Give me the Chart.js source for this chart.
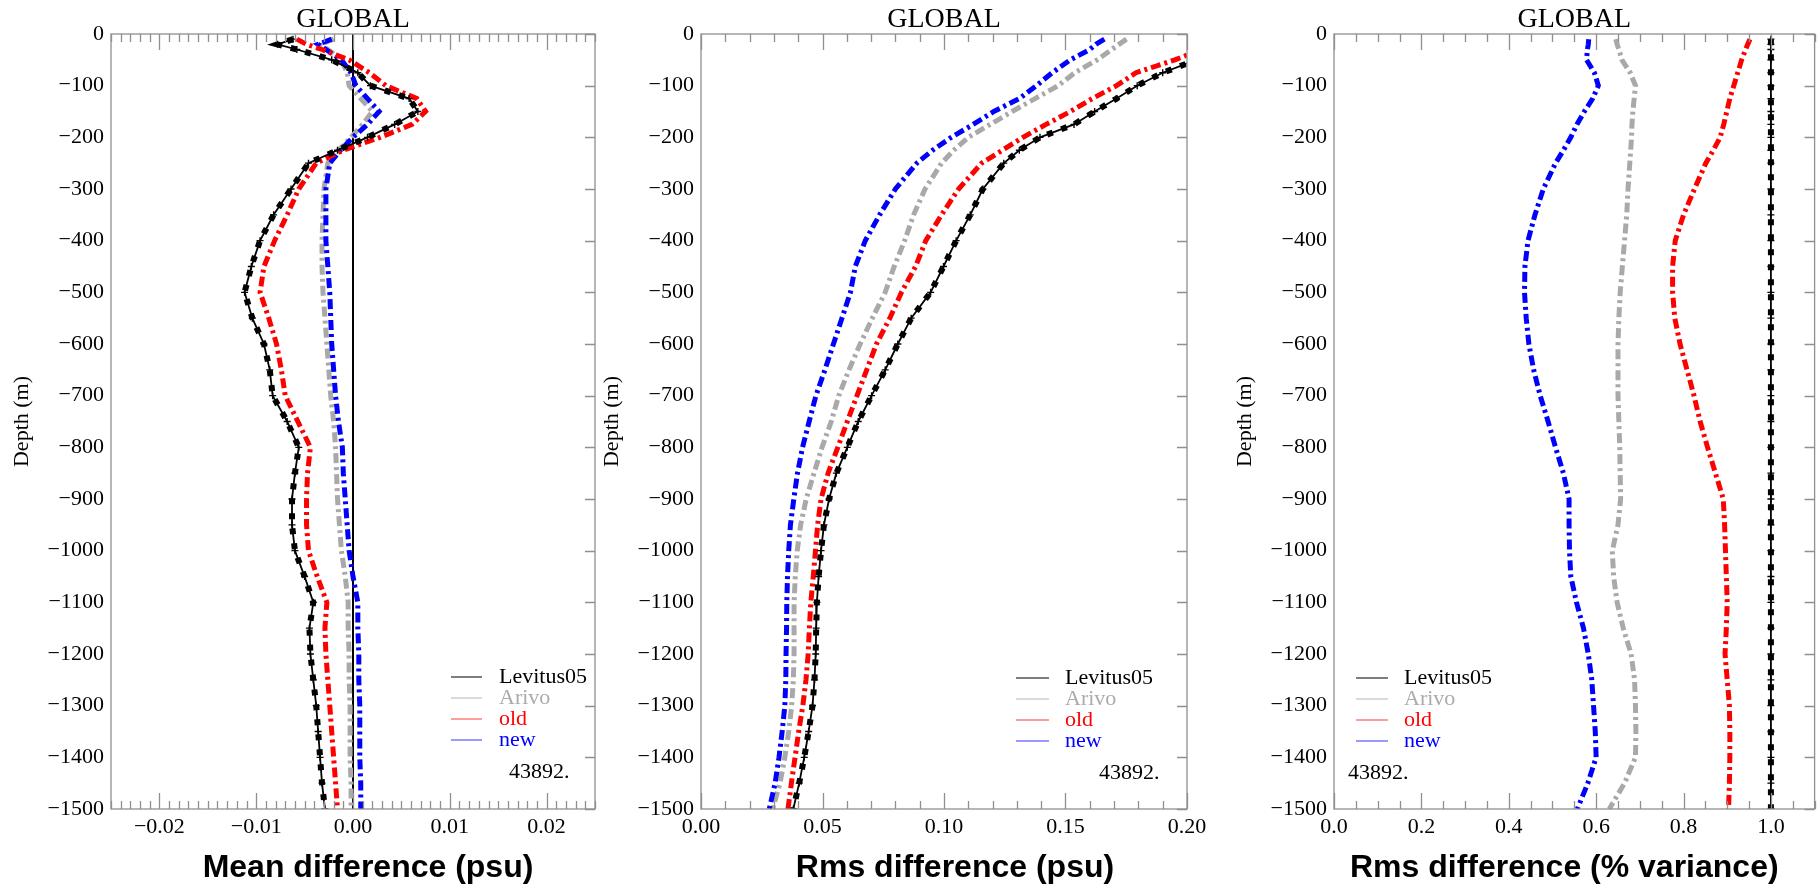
<!DOCTYPE html>
<html>
<head>
<meta charset="utf-8">
<title>GLOBAL salinity profiles</title>
<script src="https://cdn.jsdelivr.net/npm/chart.js@4.4.1/dist/chart.umd.min.js"></script>
<style>
  html, body { margin: 0; padding: 0; background: #fff; }
  body { width: 1819px; height: 889px; position: relative; overflow: hidden; }
  .panel { position: absolute; top: 0; height: 889px; }
</style>
</head>
<body>
<div class="panel" style="left:1px;width:634px"><canvas id="meanChart"></canvas></div>
<div class="panel" style="left:591px;width:636px"><canvas id="rmsChart"></canvas></div>
<div class="panel" style="left:1224px;width:596px"><canvas id="varChart"></canvas></div>
<script>
// depth levels (m) shared by every profile
const depthLevels = [10, 20, 30, 50, 75, 100, 125, 150, 175, 200, 225, 250,
  300, 350, 400, 450, 500, 550, 600, 650, 700, 750, 800, 850, 900, 950,
  1000, 1050, 1100, 1150, 1200, 1250, 1300, 1350, 1400, 1450, 1500];

// mean difference (psu)
const meanLevitus = [-0.0062, -0.0078, -0.0058, -0.0022, 0.0005, 0.0018, 0.0058, 0.0067, 0.0043, 0.0015, -0.0016, -0.0046,
  -0.0064, -0.0082, -0.0096, -0.0105, -0.0112, -0.0104, -0.0092, -0.0086, -0.0083, -0.0068, -0.0056, -0.0060, -0.0063, -0.0063,
  -0.0060, -0.0050, -0.0041, -0.0045, -0.0044, -0.0041, -0.0038, -0.0036, -0.0034, -0.0032, -0.0029];
const meanArivo = [-0.0020, -0.0034, -0.0026, -0.0012, -0.0006, -0.0004, 0.0008, 0.0020, 0.0010, -0.0002, -0.0015, -0.0026,
  -0.0030, -0.0031, -0.0032, -0.0032, -0.0031, -0.0029, -0.0027, -0.0025, -0.0023, -0.0020, -0.0018, -0.0017, -0.0016, -0.0014,
  -0.0012, -0.0008, -0.0005, -0.0005, -0.0004, -0.0004, -0.0003, -0.0003, -0.0003, -0.0002, -0.0002];
const meanOld = [-0.0058, -0.0048, -0.0032, -0.0004, 0.0017, 0.0034, 0.0066, 0.0075, 0.0061, 0.0028, -0.0010, -0.0038,
  -0.0056, -0.0068, -0.0081, -0.0092, -0.0096, -0.0087, -0.0079, -0.0074, -0.0070, -0.0057, -0.0044, -0.0047, -0.0048, -0.0048,
  -0.0046, -0.0037, -0.0027, -0.0029, -0.0028, -0.0026, -0.0024, -0.0022, -0.0020, -0.0018, -0.0016];
const meanNew = [-0.0022, -0.0036, -0.0028, -0.0012, -0.0002, 0.0003, 0.0015, 0.0027, 0.0015, 0.0000, -0.0013, -0.0024,
  -0.0028, -0.0028, -0.0028, -0.0026, -0.0024, -0.0023, -0.0022, -0.0020, -0.0018, -0.0015, -0.0011, -0.0010, -0.0008, -0.0006,
  -0.0004, 0.0000, 0.0005, 0.0005, 0.0006, 0.0006, 0.0007, 0.0007, 0.0007, 0.0008, 0.0008];

// rms difference (psu)
const rmsLevitus = [0.235, 0.226, 0.217, 0.204, 0.190, 0.1795, 0.171, 0.162, 0.1535, 0.1395, 0.131, 0.1246,
  0.116, 0.1108, 0.105, 0.0998, 0.0945, 0.0865, 0.081, 0.0758, 0.0702, 0.0647, 0.0602, 0.0557, 0.0527, 0.0506,
  0.0494, 0.0484, 0.0477, 0.0474, 0.0472, 0.0467, 0.0459, 0.0443, 0.0425, 0.0404, 0.0380];
const rmsArivo = [0.1751, 0.172, 0.169, 0.163, 0.1538, 0.147, 0.1375, 0.128, 0.119, 0.110, 0.104, 0.099,
  0.0922, 0.0875, 0.0838, 0.0795, 0.0758, 0.0705, 0.0655, 0.0609, 0.0567, 0.0536, 0.0498, 0.0465, 0.0433, 0.0410,
  0.0396, 0.0388, 0.0383, 0.0383, 0.0383, 0.0380, 0.0373, 0.0361, 0.0345, 0.0325, 0.0295];
const rmsOld = [0.222, 0.214, 0.206, 0.195, 0.179, 0.171, 0.161, 0.152, 0.142, 0.1325, 0.124, 0.1155,
  0.106, 0.099, 0.0925, 0.0883, 0.0825, 0.0777, 0.0722, 0.0682, 0.0642, 0.0602, 0.0563, 0.0523, 0.0494, 0.0480,
  0.0471, 0.0462, 0.0452, 0.0446, 0.0441, 0.0432, 0.0419, 0.0402, 0.0387, 0.0372, 0.0358];
const rmsNew = [0.166, 0.1625, 0.160, 0.152, 0.1445, 0.138, 0.131, 0.1205, 0.112, 0.103, 0.0953, 0.0888,
  0.080, 0.0735, 0.0676, 0.0635, 0.0615, 0.058, 0.0545, 0.051, 0.0473, 0.0445, 0.0418, 0.0397, 0.0382, 0.0368,
  0.0361, 0.0356, 0.0353, 0.0352, 0.0350, 0.0349, 0.0345, 0.0334, 0.0321, 0.0305, 0.0281];

// rms difference (% variance)
const varLevitus = [1, 1, 1, 1, 1, 1, 1, 1, 1, 1, 1, 1,
  1, 1, 1, 1, 1, 1, 1, 1, 1, 1, 1, 1, 1, 1,
  1, 1, 1, 1, 1, 1, 1, 1, 1, 1, 1];
const varArivo = [0.645, 0.648, 0.652, 0.659, 0.678, 0.690, 0.687, 0.684, 0.682, 0.681, 0.679, 0.677,
  0.673, 0.670, 0.665, 0.660, 0.655, 0.652, 0.650, 0.650, 0.650, 0.652, 0.654, 0.655, 0.656, 0.650,
  0.637, 0.640, 0.648, 0.662, 0.680, 0.688, 0.690, 0.691, 0.690, 0.665, 0.630];
const varOld = [0.952, 0.947, 0.942, 0.933, 0.924, 0.915, 0.906, 0.899, 0.892, 0.884, 0.868, 0.851,
  0.825, 0.800, 0.781, 0.775, 0.775, 0.780, 0.792, 0.808, 0.824, 0.838, 0.855, 0.873, 0.891, 0.894,
  0.896, 0.898, 0.900, 0.898, 0.895, 0.900, 0.905, 0.906, 0.906, 0.905, 0.903];
const varNew = [0.583, 0.582, 0.580, 0.578, 0.596, 0.605, 0.592, 0.573, 0.556, 0.542, 0.525, 0.507,
  0.479, 0.460, 0.444, 0.437, 0.436, 0.440, 0.446, 0.457, 0.472, 0.490, 0.507, 0.525, 0.538, 0.538,
  0.539, 0.542, 0.555, 0.571, 0.582, 0.590, 0.594, 0.598, 0.600, 0.581, 0.557];

// zero reference line of the mean panel
const zeroLineX = [0, 0];
const zeroLineDepth = [0, 1500];

// tick labels
const depthTicks = [0, -100, -200, -300, -400, -500, -600, -700, -800, -900, -1000, -1100, -1200, -1300, -1400, -1500];
const meanTicks = [-0.02, -0.01, 0, 0.01, 0.02];
const rmsTicks = [0, 0.05, 0.10, 0.15, 0.20];
const varTicks = [0, 0.2, 0.4, 0.6, 0.8, 1.0];

const profileCount = '43892.';

const serif = 'Liberation Serif';
const dashDot = [10, 4, 3, 4];

function profile(values) {
  return depthLevels.map((d, i) => ({ x: values[i], y: -d }));
}

function makeDatasets(p) {
  const ds = [
    { label: 'Levitus05', data: profile(p.levitus), showLine: true, borderColor: '#000', borderWidth: 1.8,
      pointStyle: 'cross', pointRadius: 3.5, pointBorderWidth: 1.4, pointBorderColor: '#000', order: 0,
      legendLine: '#7d7d7d', legendText: '#000' },
    { label: '', data: profile(p.levitus), showLine: true, borderColor: '#000', borderWidth: 6,
      borderDash: [6, 9], pointRadius: 0, order: 1 },
    { label: 'Arivo', data: profile(p.arivo), showLine: true, borderColor: '#a9a9a9', borderWidth: 5,
      borderDash: dashDot, pointRadius: 0, order: 4, legendLine: '#dadada', legendText: '#ababab' },
    { label: 'old', data: profile(p.old), showLine: true, borderColor: '#ff0000', borderWidth: 5,
      borderDash: dashDot, pointRadius: 0, order: 2, legendLine: '#ff9c9c', legendText: '#ff0000' },
    { label: 'new', data: profile(p.neu), showLine: true, borderColor: '#0000ff', borderWidth: 5,
      borderDash: dashDot, pointRadius: 0, order: 3, legendLine: '#9a9aff', legendText: '#0000ff' }
  ];
  if (p.zero) {
    ds.push({ label: '', data: zeroLineX.map((x, i) => ({ x: x, y: -zeroLineDepth[i] })), showLine: true,
      borderColor: '#000', borderWidth: 2, pointRadius: 0, order: 5 });
  }
  ds.forEach(d => { d.tension = 0; d.clip = 0; d.borderCapStyle = 'butt'; });
  return ds;
}

// frame with inward ticks (IDL style)
const frameTicks = {
  id: 'frameTicks',
  afterDatasetsDraw(chart, args, o) {
    const { ctx, chartArea: a, scales: { x, y } } = chart;
    ctx.save();
    ctx.strokeStyle = '#8f8f8f';
    ctx.lineWidth = 1.3;
    ctx.strokeRect(a.left, a.top, a.right - a.left, a.bottom - a.top);
    ctx.beginPath();
    const n = Math.round((x.max - x.min) / o.minorStep);
    const start = Math.ceil(x.min / o.minorStep - 1e-6);
    for (let i = start; i <= start + n; i++) {
      const v = i * o.minorStep;
      if (v > x.max + 1e-9) break;
      const r = v / o.majorStep;
      const len = Math.abs(r - Math.round(r)) < 1e-6 ? 16 : 8;
      const px = Math.round(x.getPixelForValue(v)) + 0.5;
      ctx.moveTo(px, a.bottom); ctx.lineTo(px, a.bottom - len);
      ctx.moveTo(px, a.top); ctx.lineTo(px, a.top + len);
    }
    depthTicks.forEach(v => {
      const py = Math.round(y.getPixelForValue(v)) + 0.5;
      ctx.moveTo(a.right, py); ctx.lineTo(a.right - 10, py);
    });
    ctx.stroke();
    ctx.restore();
  }
};

const profileLegend = {
  id: 'profileLegend',
  afterDraw(chart, args, o) {
    const { ctx, chartArea: a } = chart;
    ctx.save();
    ctx.font = '22px "' + serif + '"';
    ctx.textBaseline = 'middle';
    let row = 0;
    chart.data.datasets.forEach(d => {
      if (!d.legendText) return;
      const yy = a.bottom + o.rowY + row * o.rowStep;
      ctx.strokeStyle = d.legendLine;
      ctx.lineWidth = 2;
      ctx.beginPath();
      ctx.moveTo(a.left + o.lineX0, yy);
      ctx.lineTo(a.left + o.lineX1, yy);
      ctx.stroke();
      ctx.fillStyle = d.legendText;
      ctx.fillText(d.label, a.left + o.textX, yy);
      row++;
    });
    ctx.fillStyle = '#000';
    ctx.fillText(profileCount, a.left + o.countX, a.bottom + o.countY);
    ctx.restore();
  }
};

const caption = {
  id: 'caption',
  afterDraw(chart, args, o) {
    const { ctx, chartArea: a } = chart;
    ctx.save();
    ctx.font = 'bold 32px "Liberation Sans"';
    ctx.fillStyle = '#000';
    ctx.textAlign = 'center';
    ctx.textBaseline = 'middle';
    ctx.fillText(o.text, (a.left + a.right) / 2 + o.dx, o.y);
    ctx.restore();
  }
};

function fmt(v, dec) {
  if (dec === 0) return v === 0 ? '0' : String(v).replace('-', '\u2212');
  return v.toFixed(dec).replace('-', '\u2212');
}

const panels = [
  { id: 'meanChart', padRight: 40, min: -0.025, max: 0.025, ticks: meanTicks, dec: 2, minorStep: 0.001, majorStep: 0.01,
    levitus: meanLevitus, arivo: meanArivo, old: meanOld, neu: meanNew, zero: true,
    legend: { lineX0: 340, lineX1: 371, textX: 388, rowY: -132, rowStep: 21, countX: 398, countY: -37 },
    caption: { text: 'Mean difference (psu)', dx: 15, y: 868 } },
  { id: 'rmsChart', padRight: 40, min: 0, max: 0.20, ticks: rmsTicks, dec: 2, minorStep: 0.01, majorStep: 0.05,
    levitus: rmsLevitus, arivo: rmsArivo, old: rmsOld, neu: rmsNew, zero: false,
    legend: { lineX0: 315, lineX1: 348, textX: 364, rowY: -131, rowStep: 21, countX: 398, countY: -36 },
    caption: { text: 'Rms difference (psu)', dx: 11, y: 868 } },
  { id: 'varChart', padRight: 2, min: 0, max: 1.1, ticks: varTicks, dec: 1, minorStep: 0.05, majorStep: 0.2,
    levitus: varLevitus, arivo: varArivo, old: varOld, neu: varNew, zero: false,
    legend: { lineX0: 22, lineX1: 54, textX: 70, rowY: -131, rowStep: 21, countX: 14, countY: -36 },
    caption: { text: 'Rms difference (% variance)', dx: -10, y: 868 } }
];

panels.forEach(p => {
  new Chart(document.getElementById(p.id), {
    type: 'scatter',
    data: { datasets: makeDatasets(p) },
    options: {
      responsive: true,
      maintainAspectRatio: false,
      animation: false,
      events: [],
      layout: { padding: { left: 0, top: 0, bottom: 0, right: p.padRight } },
      plugins: {
        legend: { display: false },
        tooltip: { enabled: false },
        frameTicks: { minorStep: p.minorStep, majorStep: p.majorStep },
        profileLegend: p.legend,
        caption: p.caption
      },
      scales: {
        x: {
          type: 'linear', position: 'bottom', min: p.min, max: p.max,
          grid: { display: false, drawTicks: false }, border: { display: false },
          afterBuildTicks: s => { s.ticks = p.ticks.map(v => ({ value: v })); },
          afterFit: s => { s.height = 80; },
          ticks: { padding: 5, color: '#000', maxRotation: 0, autoSkip: false,
            font: { family: serif, size: 22 }, callback: v => fmt(v, p.dec) }
        },
        x2: {
          type: 'linear', position: 'top', min: p.min, max: p.max,
          grid: { display: false, drawTicks: false }, border: { display: false },
          ticks: { display: false },
          afterFit: s => { s.height = 34; },
          title: { display: true, text: 'GLOBAL', color: '#000',
            font: { family: serif, size: 28, lineHeight: 1.2 }, padding: { top: 3, bottom: 0 } }
        },
        y: {
          type: 'linear', position: 'left', min: -1500, max: 0,
          grid: { display: false, drawTicks: false }, border: { display: false },
          afterBuildTicks: s => { s.ticks = depthTicks.map(v => ({ value: v })); },
          afterFit: s => { s.width = 110; },
          ticks: { padding: 7, color: '#000', autoSkip: false,
            font: { family: serif, size: 22 }, callback: v => fmt(v, 0) },
          title: { display: true, text: 'Depth (m)', color: '#000',
            font: { family: serif, size: 22, lineHeight: 1.2 }, padding: { top: 8, bottom: 0 } }
        }
      }
    },
    plugins: [frameTicks, profileLegend, caption]
  });
});
</script>
</body>
</html>
